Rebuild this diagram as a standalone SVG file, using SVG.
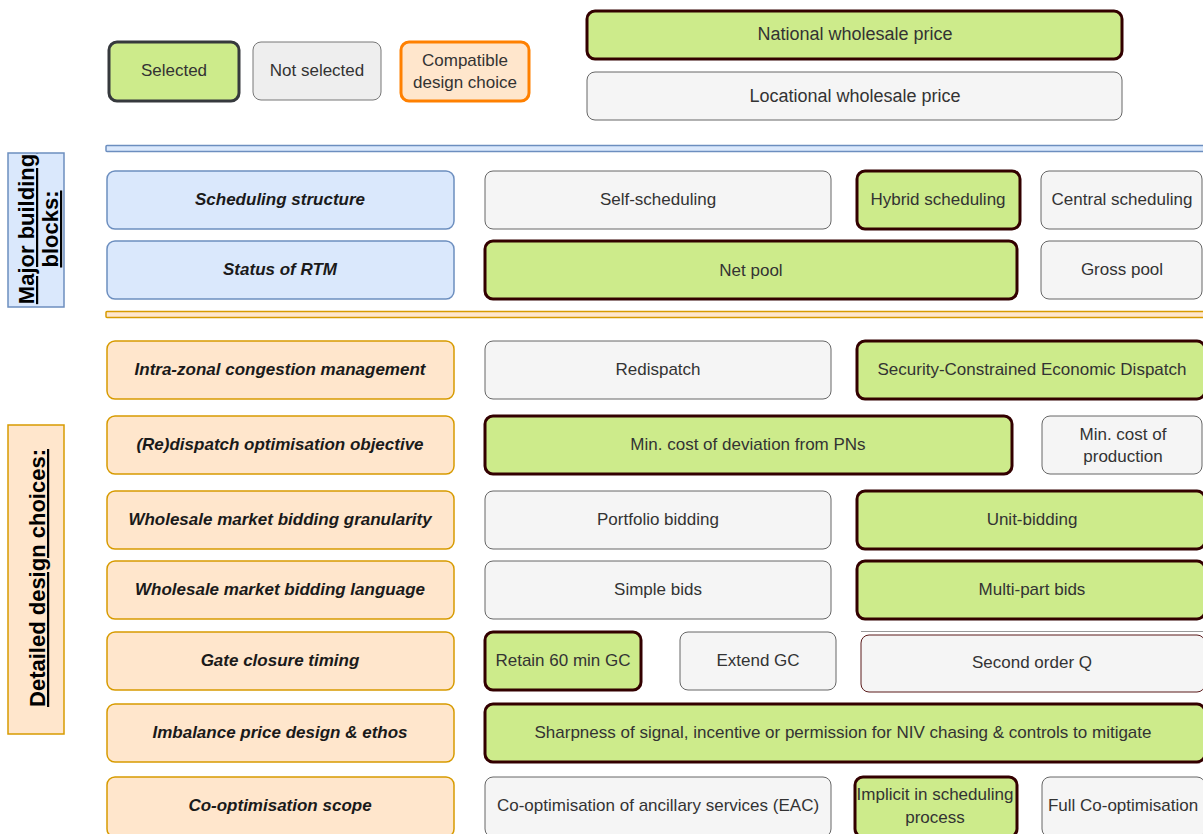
<svg xmlns="http://www.w3.org/2000/svg" width="1203" height="834" viewBox="0 0 1203 834">
  <style>
    text { font-family: "Liberation Sans", Arial, sans-serif; font-size: 17px; text-anchor: middle; }
    .sel { fill: #cdeb8b; stroke: #330000; stroke-width: 3; }
    .no { fill: #f5f5f5; stroke: #666666; stroke-width: 1; }
    .blue { fill: #dae8fc; stroke: #6c8ebf; stroke-width: 1.5; }
    .orange { fill: #ffe6cc; stroke: #d79b00; stroke-width: 1.5; }
    .t { fill: #333333; }
    .lbl { fill: #1a1a1a; font-weight: bold; font-style: italic; }
    .side { fill: #000000; font-weight: bold; font-size: 22px; text-decoration: underline; }
  </style>

  <!-- legend -->
  <g id="legend-selected">
    <rect x="109" y="42" width="130" height="59" rx="8" fill="#cdeb8b" stroke="#36393d" stroke-width="3"/>
    <text class="t" x="174" y="76">Selected</text>
  </g>
  <g id="legend-not-selected">
    <rect x="253" y="42" width="128" height="58" rx="8" fill="#eeeeee" stroke="#777777" stroke-width="1"/>
    <text class="t" x="317" y="76">Not selected</text>
  </g>
  <g id="legend-compatible">
    <rect x="401" y="42" width="128" height="59" rx="8" fill="#ffe6cc" stroke="#ff8000" stroke-width="3"/>
    <text class="t" x="465" y="66">Compatible</text>
    <text class="t" x="465" y="88">design choice</text>
  </g>

  <!-- price zone -->
  <g id="national-price">
    <rect class="sel" x="587" y="11" width="535" height="48" rx="8"/>
    <text class="t" x="855" y="40" style="font-size:18px">National wholesale price</text>
  </g>
  <g id="locational-price">
    <rect class="no" x="587" y="72" width="535" height="48" rx="8"/>
    <text class="t" x="855" y="102" style="font-size:18px">Locational wholesale price</text>
  </g>

  <!-- section bars -->
  <g id="bar-major">
    <rect class="blue" x="106" y="145.5" width="1100" height="6" rx="1"/>
  </g>
  <g id="bar-detailed">
    <rect class="orange" x="106" y="311.5" width="1100" height="6" rx="1"/>
  </g>

  <!-- section labels -->
  <g id="label-major">
    <rect class="blue" x="8" y="153" width="56" height="154"/>
    <g transform="translate(36,229) rotate(-90)">
      <text class="side" x="0" y="-2">Major building</text>
      <text class="side" x="0" y="22">blocks:</text>
    </g>
  </g>
  <g id="label-detailed">
    <rect class="orange" x="8" y="425" width="56" height="309"/>
    <g transform="translate(36,578) rotate(-90)">
      <text class="side" x="0" y="9">Detailed design choices:</text>
    </g>
  </g>

  <!-- row: scheduling structure -->
  <g id="scheduling-structure">
    <rect class="blue" x="107" y="171" width="347" height="58" rx="8"/>
    <text class="lbl" x="280" y="205">Scheduling structure</text>
  </g>
  <g id="self-scheduling">
    <rect class="no" x="485" y="171" width="346" height="58" rx="8"/>
    <text class="t" x="658" y="205">Self-scheduling</text>
  </g>
  <g id="hybrid-scheduling">
    <rect class="sel" x="857" y="171" width="163" height="58" rx="8"/>
    <text class="t" x="938" y="205">Hybrid scheduling</text>
  </g>
  <g id="central-scheduling">
    <rect class="no" x="1041" y="171" width="161" height="58" rx="8"/>
    <text class="t" x="1122" y="205">Central scheduling</text>
  </g>

  <!-- row: status of RTM -->
  <g id="status-rtm">
    <rect class="blue" x="107" y="241" width="347" height="58" rx="8"/>
    <text class="lbl" x="280" y="275">Status of RTM</text>
  </g>
  <g id="net-pool">
    <rect class="sel" x="485" y="241" width="532" height="58" rx="8"/>
    <text class="t" x="751" y="276">Net pool</text>
  </g>
  <g id="gross-pool">
    <rect class="no" x="1041" y="241" width="161" height="58" rx="8"/>
    <text class="t" x="1122" y="275">Gross pool</text>
  </g>

  <!-- row: intra-zonal congestion management -->
  <g id="intra-zonal">
    <rect class="orange" x="107" y="341" width="347" height="58" rx="8"/>
    <text class="lbl" x="280" y="375">Intra-zonal congestion management</text>
  </g>
  <g id="redispatch">
    <rect class="no" x="485" y="341" width="346" height="58" rx="8"/>
    <text class="t" x="658" y="375">Redispatch</text>
  </g>
  <g id="sced">
    <rect class="sel" x="857" y="341" width="348" height="58" rx="8"/>
    <text class="t" x="1032" y="375">Security-Constrained Economic Dispatch</text>
  </g>

  <!-- row: (re)dispatch objective -->
  <g id="redispatch-objective">
    <rect class="orange" x="107" y="416" width="347" height="58" rx="8"/>
    <text class="lbl" x="280" y="450">(Re)dispatch optimisation objective</text>
  </g>
  <g id="min-cost-deviation">
    <rect class="sel" x="485" y="416" width="527" height="58" rx="8"/>
    <text class="t" x="748" y="450">Min. cost of deviation from PNs</text>
  </g>
  <g id="min-cost-production">
    <rect class="no" x="1042" y="416" width="160" height="58" rx="8"/>
    <text class="t" x="1123" y="440">Min. cost of</text>
    <text class="t" x="1123" y="462">production</text>
  </g>

  <!-- row: bidding granularity -->
  <g id="bidding-granularity">
    <rect class="orange" x="107" y="491" width="347" height="58" rx="8"/>
    <text class="lbl" x="280" y="525">Wholesale market bidding granularity</text>
  </g>
  <g id="portfolio-bidding">
    <rect class="no" x="485" y="491" width="346" height="58" rx="8"/>
    <text class="t" x="658" y="525">Portfolio bidding</text>
  </g>
  <g id="unit-bidding">
    <rect class="sel" x="857" y="491" width="348" height="58" rx="8"/>
    <text class="t" x="1032" y="525">Unit-bidding</text>
  </g>

  <!-- row: bidding language -->
  <g id="bidding-language">
    <rect class="orange" x="107" y="561" width="347" height="58" rx="8"/>
    <text class="lbl" x="280" y="595">Wholesale market bidding language</text>
  </g>
  <g id="simple-bids">
    <rect class="no" x="485" y="561" width="346" height="58" rx="8"/>
    <text class="t" x="658" y="595">Simple bids</text>
  </g>
  <g id="multi-part-bids">
    <rect class="sel" x="857" y="561" width="348" height="58" rx="8"/>
    <text class="t" x="1032" y="595">Multi-part bids</text>
  </g>

  <!-- row: gate closure timing -->
  <g id="gate-closure">
    <rect class="orange" x="107" y="632" width="347" height="58" rx="8"/>
    <text class="lbl" x="280" y="666">Gate closure timing</text>
  </g>
  <g id="retain-gc">
    <rect class="sel" x="485" y="632" width="156" height="58" rx="8"/>
    <text class="t" x="563" y="666">Retain 60 min GC</text>
  </g>
  <g id="extend-gc">
    <rect class="no" x="680" y="632" width="156" height="58" rx="8"/>
    <text class="t" x="758" y="666">Extend GC</text>
  </g>
  <g id="second-order-q">
    <line x1="861" y1="631.5" x2="1203" y2="631.5" stroke="#999999" stroke-width="1"/>
    <rect x="861" y="635" width="344" height="57" rx="8" fill="#f5f5f5" stroke="#5a1a1a" stroke-width="1"/>
    <text class="t" x="1032" y="668">Second order Q</text>
  </g>

  <!-- row: imbalance price -->
  <g id="imbalance-price">
    <rect class="orange" x="107" y="704" width="347" height="58" rx="8"/>
    <text class="lbl" x="280" y="738">Imbalance price design &amp; ethos</text>
  </g>
  <g id="sharpness">
    <rect class="sel" x="485" y="704" width="720" height="58" rx="8"/>
    <text class="t" x="843" y="738">Sharpness of signal, incentive or permission for NIV chasing &amp; controls to mitigate</text>
  </g>

  <!-- row: co-optimisation scope -->
  <g id="co-optimisation-scope">
    <rect class="orange" x="107" y="777" width="347" height="60" rx="8"/>
    <text class="lbl" x="280" y="811">Co-optimisation scope</text>
  </g>
  <g id="ancillary-eac">
    <rect class="no" x="485" y="777" width="346" height="60" rx="8"/>
    <text class="t" x="658" y="811">Co-optimisation of ancillary services (EAC)</text>
  </g>
  <g id="implicit-scheduling">
    <rect class="sel" x="855" y="777" width="162" height="60" rx="8"/>
    <text class="t" x="935" y="800">Implicit in scheduling</text>
    <text class="t" x="935" y="823">process</text>
  </g>
  <g id="full-co-optimisation">
    <rect class="no" x="1042" y="777" width="163" height="60" rx="8"/>
    <text class="t" x="1123" y="811">Full Co-optimisation</text>
  </g>

  <!-- connectors: none drawn -->
  <g id="connectors"/>
</svg>
